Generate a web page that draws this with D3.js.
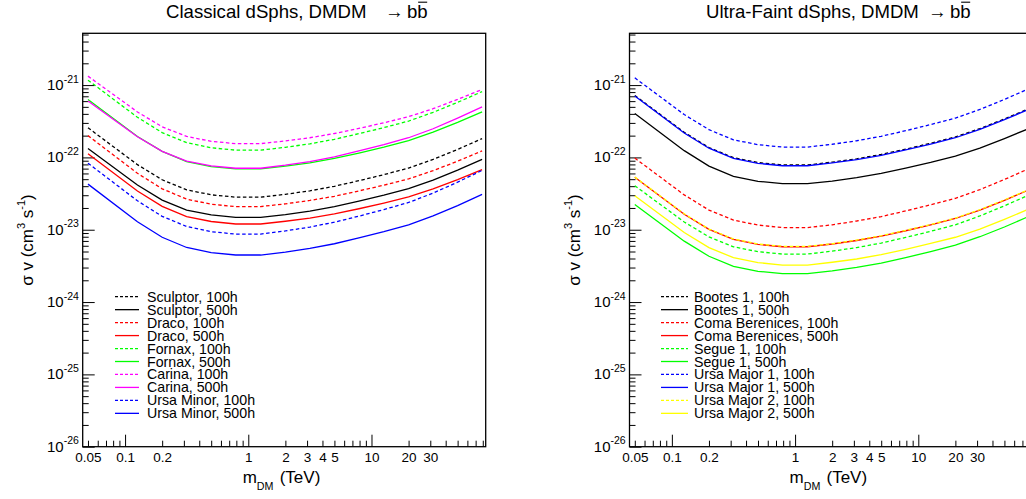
<!DOCTYPE html>
<html><head><meta charset="utf-8">
<script src="https://cdn.jsdelivr.net/npm/d3@7"></script>
<style>
body{margin:0;background:#fff}
svg{display:block}
text{font-family:"Liberation Sans",Arial,Helvetica,sans-serif;fill:#000}
</style>
</head><body>
<svg id="chart" width="1026" height="499"></svg>
<script>
// ---------- data (sigma v upper limits, cm^3 s^-1) ----------
const massTeV = [0.05, 0.126, 0.2, 0.316, 0.5, 0.79, 1.26, 2.0, 3.16, 5.0, 7.9, 12.6, 20, 31.6, 50, 79];

// Classical dSphs
const sculptor100h = [2.57e-22, 7.94e-23, 4.91e-23, 3.56e-23, 3.04e-23, 2.82e-23, 2.82e-23, 3.09e-23, 3.45e-23, 3.99e-23, 4.76e-23, 5.78e-23, 7.13e-23, 9.38e-23, 1.29e-22, 1.82e-22];
const sculptor500h = [1.33e-22, 4.15e-23, 2.57e-23, 1.87e-23, 1.60e-23, 1.48e-23, 1.48e-23, 1.62e-23, 1.81e-23, 2.09e-23, 2.49e-23, 3.01e-23, 3.71e-23, 4.86e-23, 6.68e-23, 9.40e-23];
const draco100h = [2.00e-22, 6.03e-23, 3.68e-23, 2.65e-23, 2.25e-23, 2.09e-23, 2.09e-23, 2.28e-23, 2.54e-23, 2.90e-23, 3.44e-23, 4.13e-23, 5.05e-23, 6.55e-23, 8.87e-23, 1.23e-22];
const draco500h = [1.12e-22, 3.43e-23, 2.10e-23, 1.52e-23, 1.30e-23, 1.20e-23, 1.20e-23, 1.31e-23, 1.45e-23, 1.66e-23, 1.95e-23, 2.34e-23, 2.84e-23, 3.66e-23, 4.92e-23, 6.76e-23];
const fornax100h = [1.17e-21, 3.59e-22, 2.20e-22, 1.60e-22, 1.36e-22, 1.26e-22, 1.26e-22, 1.38e-22, 1.54e-22, 1.78e-22, 2.13e-22, 2.58e-22, 3.18e-22, 4.19e-22, 5.77e-22, 8.13e-22];
const fornax500h = [6.31e-22, 1.95e-22, 1.21e-22, 8.75e-23, 7.46e-23, 6.92e-23, 6.92e-23, 7.57e-23, 8.43e-23, 9.70e-23, 1.15e-22, 1.39e-22, 1.71e-22, 2.23e-22, 3.05e-22, 4.27e-22];
const carina100h = [1.33e-21, 4.25e-22, 2.65e-22, 1.95e-22, 1.67e-22, 1.55e-22, 1.55e-22, 1.69e-22, 1.87e-22, 2.14e-22, 2.52e-22, 3.01e-22, 3.66e-22, 4.71e-22, 6.34e-22, 8.71e-22];
const carina500h = [6.03e-22, 1.93e-22, 1.21e-22, 8.89e-23, 7.62e-23, 7.08e-23, 7.08e-23, 7.80e-23, 8.77e-23, 1.02e-22, 1.23e-22, 1.50e-22, 1.87e-22, 2.49e-22, 3.50e-22, 5.01e-22];
const ursaMinor100h = [8.32e-23, 2.51e-23, 1.53e-23, 1.11e-23, 9.40e-24, 8.71e-24, 8.71e-24, 9.62e-24, 1.09e-23, 1.27e-23, 1.54e-23, 1.90e-23, 2.38e-23, 3.21e-23, 4.55e-23, 6.61e-23];
const ursaMinor500h = [4.27e-23, 1.29e-23, 7.87e-24, 5.68e-24, 4.82e-24, 4.47e-24, 4.47e-24, 4.91e-24, 5.52e-24, 6.40e-24, 7.69e-24, 9.40e-24, 1.17e-23, 1.55e-23, 2.16e-23, 3.09e-23];

// Ultra-faint dSphs
const bootes100h = [7.20e-22, 2.22e-22, 1.37e-22, 9.90e-23, 8.50e-23, 7.85e-23, 7.85e-23, 8.60e-23, 9.55e-23, 1.10e-22, 1.30e-22, 1.57e-22, 1.92e-22, 2.50e-22, 3.40e-22, 4.73e-22];
const bootes500h = [4.06e-22, 1.24e-22, 7.59e-23, 5.48e-23, 4.67e-23, 4.33e-23, 4.33e-23, 4.71e-23, 5.24e-23, 6.00e-23, 7.10e-23, 8.51e-23, 1.04e-22, 1.34e-22, 1.82e-22, 2.51e-22];
const coma100h = [9.79e-23, 3.03e-23, 1.87e-23, 1.36e-23, 1.16e-23, 1.07e-23, 1.07e-23, 1.17e-23, 1.32e-23, 1.52e-23, 1.82e-23, 2.21e-23, 2.72e-23, 3.59e-23, 4.95e-23, 7.00e-23];
const coma500h = [5.30e-23, 1.64e-23, 1.01e-23, 7.36e-24, 6.28e-24, 5.82e-24, 5.82e-24, 6.35e-24, 7.10e-24, 8.15e-24, 9.68e-24, 1.17e-23, 1.43e-23, 1.87e-23, 2.55e-23, 3.55e-23];
const segue100h = [4.06e-23, 1.28e-23, 7.96e-24, 5.81e-24, 4.97e-24, 4.61e-24, 4.61e-24, 5.06e-24, 5.66e-24, 6.55e-24, 7.82e-24, 9.51e-24, 1.17e-23, 1.55e-23, 2.14e-23, 3.02e-23];
const segue500h = [2.24e-23, 6.95e-24, 4.30e-24, 3.12e-24, 2.66e-24, 2.47e-24, 2.47e-24, 2.70e-24, 3.01e-24, 3.46e-24, 4.12e-24, 4.98e-24, 6.11e-24, 8.00e-24, 1.09e-23, 1.53e-23];
const ursaMajor1_100h = [1.26e-21, 3.91e-22, 2.42e-22, 1.75e-22, 1.50e-22, 1.39e-22, 1.39e-22, 1.52e-22, 1.70e-22, 1.96e-22, 2.34e-22, 2.84e-22, 3.50e-22, 4.60e-22, 6.34e-22, 8.91e-22];
const ursaMajor1_500h = [7.05e-22, 2.17e-22, 1.34e-22, 9.70e-23, 8.28e-23, 7.67e-23, 7.67e-23, 8.38e-23, 9.33e-23, 1.07e-22, 1.27e-22, 1.53e-22, 1.87e-22, 2.44e-22, 3.32e-22, 4.62e-22];
const ursaMajor2_100h = [5.35e-23, 1.66e-23, 1.02e-23, 7.45e-24, 6.35e-24, 5.90e-24, 5.90e-24, 6.40e-24, 7.20e-24, 8.25e-24, 9.80e-24, 1.18e-23, 1.45e-23, 1.89e-23, 2.58e-23, 3.59e-23];
const ursaMajor2_500h = [2.95e-23, 9.14e-24, 5.65e-24, 4.11e-24, 3.51e-24, 3.25e-24, 3.25e-24, 3.55e-24, 3.94e-24, 4.53e-24, 5.36e-24, 6.46e-24, 7.87e-24, 1.02e-23, 1.39e-23, 1.93e-23];

const classicalLabels = ["Sculptor, 100h","Sculptor, 500h","Draco, 100h","Draco, 500h","Fornax, 100h","Fornax, 500h","Carina, 100h","Carina, 500h","Ursa Minor, 100h","Ursa Minor, 500h"];
const classicalValues = [sculptor100h, sculptor500h, draco100h, draco500h, fornax100h, fornax500h, carina100h, carina500h, ursaMinor100h, ursaMinor500h];
const classicalColors = ["#000000","#000000","#ff0000","#ff0000","#00ff00","#00ff00","#ff00ff","#ff00ff","#0000ff","#0000ff"];

const ultraLabels = ["Bootes 1, 100h","Bootes 1, 500h","Coma Berenices, 100h","Coma Berenices, 500h","Segue 1, 100h","Segue 1, 500h","Ursa Major 1, 100h","Ursa Major 1, 500h","Ursa Major 2, 100h","Ursa Major 2, 500h"];
const ultraValues = [bootes100h, bootes500h, coma100h, coma500h, segue100h, segue500h, ursaMajor1_100h, ursaMajor1_500h, ursaMajor2_100h, ursaMajor2_500h];
const ultraColors = ["#000000","#000000","#ff0000","#ff0000","#00ff00","#00ff00","#0000ff","#0000ff","#ffff00","#ffff00"];

const xTickLabels = [0.05, 0.1, 0.2, 1, 2, 3, 4, 5, 10, 20, 30];
const xMajorTicks = [0.1, 1, 10];
const yDecades = [-26, -25, -24, -23, -22, -21];

// ---------- drawing ----------
const svg = d3.select("#chart");
const TOP = 33.3, BOTTOM = 446.7, WIDTH = 403;
const xDomain = [0.0453, 84.5];
const yDomain = [1e-26, 5.2e-21];

function drawPanel(p) {
  const x0 = p.x0, x1 = p.x0 + WIDTH;
  const x = d3.scaleLog().domain(xDomain).range([x0, x1]);
  const y = d3.scaleLog().domain(yDomain).range([BOTTOM, TOP]);
  const g = svg.append("g");
  const clipId = "clip" + Math.round(x0);
  g.append("clipPath").attr("id", clipId).append("rect")
    .attr("x", x0).attr("y", TOP).attr("width", WIDTH).attr("height", BOTTOM - TOP);

  // minor ticks
  const xMinor = [];
  for (let e = -2; e <= 1; e++) for (let m = 1; m <= 9; m++) {
    const v = m * Math.pow(10, e);
    if (v >= xDomain[0] && v <= xDomain[1] && !xMajorTicks.includes(+v.toPrecision(6))) xMinor.push(v);
  }
  const yMinor = [];
  for (let e = -26; e <= -21; e++) for (let m = 2; m <= 9; m++) {
    const v = m * Math.pow(10, e);
    if (v <= yDomain[1]) yMinor.push(v);
  }

  const axX = g.append("g").attr("transform", `translate(0,${BOTTOM})`);
  axX.append("g").call(d3.axisBottom(x).tickValues(xMinor).tickSizeInner(-6).tickSizeOuter(0).tickFormat(""));
  axX.append("g").call(d3.axisBottom(x).tickValues(xMajorTicks).tickSizeInner(-12).tickSizeOuter(0).tickFormat(""));
  axX.append("g").call(d3.axisBottom(x).tickValues(xTickLabels).tickSize(0).tickFormat(d => String(d)))
    .selectAll("text").attr("y", 15).attr("dy", 0).style("font-size", "13.5px")
    .style("font-family", '"Liberation Sans",Arial,sans-serif');
  axX.selectAll(".domain").remove();
  axX.selectAll("line").attr("stroke", "#000");

  const axY = g.append("g").attr("transform", `translate(${x0},0)`);
  axY.append("g").call(d3.axisLeft(y).tickValues(yMinor).tickSizeInner(-6).tickSizeOuter(0).tickFormat(""));
  axY.append("g").call(d3.axisLeft(y).tickValues(yDecades.map(e => Math.pow(10, e))).tickSizeInner(-12).tickSizeOuter(0).tickFormat(""));
  axY.selectAll(".domain").remove();
  axY.selectAll("line").attr("stroke", "#000");

  // y labels 10^e
  yDecades.forEach(e => {
    const t = g.append("text").attr("x", x0 - 35.7).attr("y", y(Math.pow(10, e)) + 5)
      .style("font-size", "15px");
    t.append("tspan").text("10");
    t.append("tspan").attr("dy", -7.5).style("font-size", "10.5px").text(String(e));
  });

  // frame
  g.append("rect").attr("x", x0).attr("y", TOP).attr("width", WIDTH).attr("height", BOTTOM - TOP)
    .attr("fill", "none").attr("stroke", "#000").attr("stroke-width", 1.3);

  // curves
  const line = d3.line().x(d => x(d[0])).y(d => y(d[1]));
  const curves = g.append("g").attr("clip-path", `url(#${clipId})`);
  p.values.forEach((vals, i) => {
    curves.append("path")
      .datum(massTeV.map((m, k) => [m, vals[k]]))
      .attr("d", line).attr("fill", "none")
      .attr("stroke", p.colors[i]).attr("stroke-width", 1.3)
      .attr("stroke-dasharray", i % 2 === 0 ? "3.5,2.5" : null);
  });

  // legend
  const ly0 = 296.7, ldy = 12.96;
  p.labels.forEach((lab, i) => {
    const yy = ly0 + i * ldy;
    g.append("line").attr("x1", p.legLine[0]).attr("x2", p.legLine[1]).attr("y1", yy).attr("y2", yy)
      .attr("stroke", p.colors[i]).attr("stroke-width", 1.3)
      .attr("stroke-dasharray", i % 2 === 0 ? "3,2" : null);
    g.append("text").attr("x", p.legText).attr("y", yy + 5).style("font-size", "14.2px").text(lab);
  });

  // title
  const fs = 18.6;
  g.append("text").attr("x", p.title[0]).attr("y", 17.5).style("font-size", fs + "px").text(p.titleText);
  g.append("text").attr("x", p.title[1]).attr("y", 17.5).style("font-size", fs + "px").text("\u2192");
  const b1 = g.append("text").attr("x", p.title[2]).attr("y", 17.5).style("font-size", fs + "px").text("b");
  const bw = b1.node().getComputedTextLength();
  g.append("text").attr("x", p.title[2] + bw).attr("y", 17.5).style("font-size", fs + "px").text("b");
  g.append("line").attr("x1", p.title[2] + bw + 0.8).attr("x2", p.title[2] + 2 * bw - 0.5)
    .attr("y1", 2.2).attr("y2", 2.2).attr("stroke", "#000").attr("stroke-width", 1.1);

  // x title
  const xt = g.append("text").attr("x", x0 + 160).attr("y", 483).style("font-size", "17px");
  xt.append("tspan").text("m");
  xt.append("tspan").attr("dy", 7).style("font-size", "10.7px").text("DM");
  xt.append("tspan").attr("x", x0 + 197).attr("dy", -7).text("(TeV)");

  // y title
  const yt = g.append("text").attr("transform", `translate(${x0 - 50},240) rotate(-90)`)
    .attr("text-anchor", "middle").style("font-size", "17px");
  yt.append("tspan").text("\u03C3 v (cm");
  yt.append("tspan").attr("dy", -8).style("font-size", "11px").text("3");
  yt.append("tspan").attr("dy", 8).text(" s");
  yt.append("tspan").attr("dy", -8).style("font-size", "11px").text("-1");
  yt.append("tspan").attr("dy", 8).text(")");
}

drawPanel({x0: 82.7, values: classicalValues, colors: classicalColors, labels: classicalLabels,
  legLine: [115, 139], legText: 147, title: [166, 385, 407], titleText: "Classical dSphs, DMDM"});
drawPanel({x0: 629.5, values: ultraValues, colors: ultraColors, labels: ultraLabels,
  legLine: [661, 688], legText: 694, title: [706, 928, 950], titleText: "Ultra-Faint dSphs, DMDM"});
</script>
</body></html>
